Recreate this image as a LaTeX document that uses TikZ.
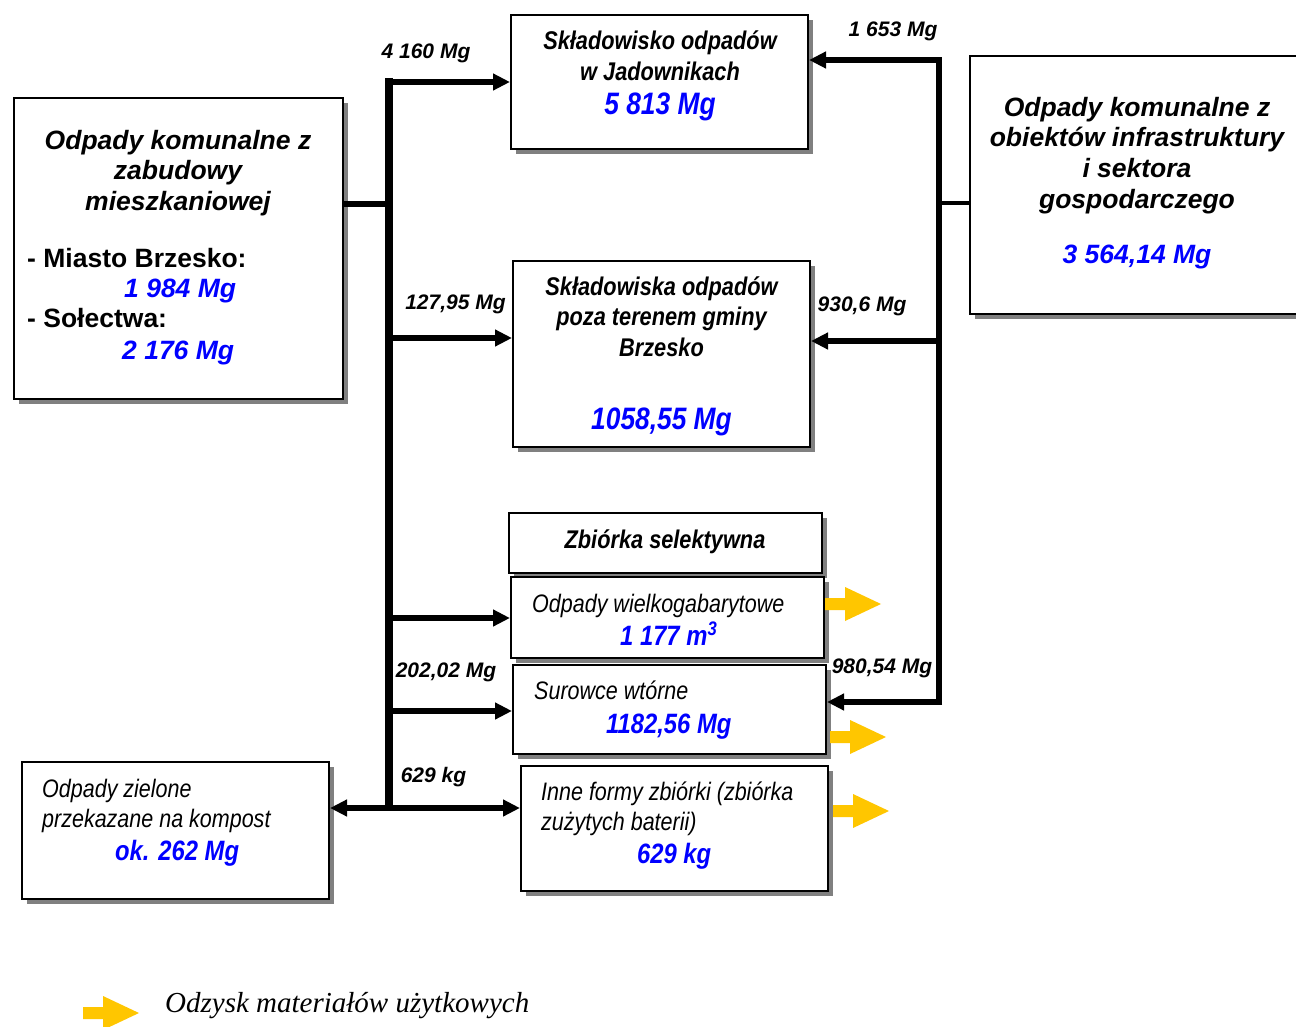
\documentclass[tikz,border=0pt]{standalone}
\usepackage{fontspec}
\setmainfont{Liberation Sans}
\newfontfamily\narrowf[FakeStretch=0.85]{Liberation Sans}
\newfontfamily\timesf{Liberation Serif}
\usetikzlibrary{arrows.meta,shadows,calc}
\definecolor{vblue}{RGB}{0,0,255}
\definecolor{ylw}{RGB}{255,198,0}
\definecolor{shd}{RGB}{128,128,128}
\tikzset{
  box/.style={draw=black, line width=2pt, fill=white, anchor=north west, inner sep=0pt,
    drop shadow={shadow xshift=5pt, shadow yshift=-5pt, fill=shd, opacity=1}},
  conn/.style={line width=5.5pt, draw=black, line join=miter},
  trunk/.style={line width=8pt, draw=black},
  tip/.style={-{Triangle[length=17pt,width=16pt]}},
  wide/.style={font=\fontsize{26.5}{30}\selectfont\bfseries\itshape, inner sep=0pt, anchor=base},
  wideup/.style={font=\fontsize{26.5}{30}\selectfont\bfseries, inner sep=0pt, anchor=base west},
  bluew/.style={font=\fontsize{26.5}{30}\selectfont\bfseries\itshape, text=vblue, inner sep=0pt, anchor=base west},
  narb/.style={font=\narrowf\fontsize{25.6}{30}\selectfont\bfseries\itshape, inner sep=0pt, anchor=base},
  narr/.style={font=\narrowf\fontsize{25.3}{30}\selectfont\itshape, inner sep=0pt, anchor=base west},
  bluebig/.style={font=\narrowf\fontsize{31}{34}\selectfont\bfseries\itshape, text=vblue, inner sep=0pt, anchor=base},
  bluen/.style={font=\narrowf\fontsize{28}{32}\selectfont\bfseries\itshape, text=vblue, inner sep=0pt, anchor=base west},
  lbl/.style={font=\fontsize{21}{24}\selectfont\bfseries\itshape, inner sep=0pt, anchor=base},
  yarrow/.pic={\fill[ylw] (0,-6) -- (20,-6) -- (20,-17) -- (56,0) -- (20,17) -- (20,6) -- (0,6) -- cycle;}
}
\begin{document}
\begin{tikzpicture}[x=1pt,y=-1pt]
\useasboundingbox[fill=white] (0,0) rectangle (1296,1027);

% boxes
\node[box, minimum width=329pt, minimum height=301pt] (A) at (13,97) {};
\node[box, minimum width=297pt, minimum height=134pt] (J) at (510,14) {};
\node[box, minimum width=297pt, minimum height=186pt] (P) at (512,260) {};
\node[box, minimum width=313pt, minimum height=60pt] (ZS) at (508,512) {};
\node[box, minimum width=313pt, minimum height=81pt] (W) at (510,576) {};
\node[box, minimum width=313pt, minimum height=89pt] (S) at (512,664) {};
\node[box, minimum width=307pt, minimum height=125pt] (I) at (520,765) {};
\node[box, minimum width=307pt, minimum height=137pt] (Z) at (21,761) {};
\node[box, minimum width=340pt, minimum height=258pt] (R) at (969,55) {};

% left box text
\node[wide] (a1) at (178,150) {Odpady komunalne z};
\node[wide] (a2) at (178,180) {zabudowy};
\node[wide] (a3) at (178,211) {mieszkaniowej};
\node[wideup] (a4) at (27,267) {- Miasto Brzesko:};
\node[bluew] (a5) at (124,297) {1 984 Mg};
\node[wideup] (a6) at (27,327) {- Sołectwa:};
\node[bluew] (a7) at (122,359) {2 176 Mg};

% Jadowniki
\node[narb] (j1) at (660,50) {Składowisko odpadów};
\node[narb] (j2) at (660,81) {w Jadownikach};
\node[bluebig] (j3) at (660,115) {5 813 Mg};

% poza terenem
\node[narb] (p1) at (661.5,295) {Składowiska odpadów};
\node[narb] (p2) at (661.5,325) {poza terenem gminy};
\node[narb] (p3) at (661.5,356) {Brzesko};
\node[bluebig] (p4) at (661.5,429) {1058,55 Mg};

% selektywna
\node[narb] (z1) at (665,548) {Zbiórka selektywna};
\node[narr] (w1) at (532,612) {Odpady wielkogabarytowe};
\node[bluen] (w2) at (620,645) {1 177 m\textsuperscript{3}};
\node[narr] (s1) at (534,699) {Surowce wtórne};
\node[bluen] (s2) at (606,733) {1182,56 Mg};
\node[narr] (i1) at (541,800) {Inne formy zbiórki (zbiórka};
\node[narr] (i2) at (541,830) {zużytych baterii)};
\node[bluen] (i3) at (637,863) {629 kg};

% zielone
\node[narr] (g1) at (42,797) {Odpady zielone};
\node[narr] (g2) at (42,827) {przekazane na kompost};
\node[bluen] (g3) at (115,860) {ok. 262 Mg};

% right box
\node[wide] (r1) at (1137,117) {Odpady komunalne z};
\node[wide] (r2) at (1137,147) {obiektów infrastruktury};
\node[wide] (r3) at (1137,178) {i sektora};
\node[wide] (r4) at (1137,209) {gospodarczego};
\node[wide, text=vblue] (r5) at (1137,263) {3 564,14 Mg};

% junction coordinates
\coordinate (LT) at (389,82);
\coordinate (LA) at (389,204);
\coordinate (LP) at (389,338);
\coordinate (LW) at (389,618);
\coordinate (LS) at (389,711);
\coordinate (LB) at (389,808);
\coordinate (RT) at (939,60);
\coordinate (RR) at (939,203);
\coordinate (RP) at (939,341);
\coordinate (RB) at (939,702);

% left trunk
\draw[trunk] (389,78) -- (LB);
\draw[conn] (A.east |- LA) -- (LA);
\draw[conn, tip] (385,82) -- (J.west |- LT);
\draw[conn, tip] (LP) -- (P.west |- LP);
\draw[conn, tip] (LW) -- (W.west |- LW);
\draw[conn, tip] (LS) -- (S.west |- LS);
\draw[conn, {Triangle[length=17pt,width=16pt]}-{Triangle[length=17pt,width=16pt]}] (Z.east |- LB) -- (I.west |- LB);

% right trunk
\draw[conn, line width=6pt, tip] (RB) -- (RT) -- (J.east |- RT);
\draw[conn, line width=4.5pt] (R.west |- RR) -- (RR);
\draw[conn, tip] (RP) -- (P.east |- RP);
\draw[conn, tip] (942,702) -- (S.east |- RB);

% labels
\node[lbl] (l1) at (426,59) {4 160 Mg};
\node[lbl] (l2) at (893,37) {1 653 Mg};
\node[lbl] (l3) at (455.5,309) {127,95 Mg};
\node[lbl] (l4) at (862,311) {930,6 Mg};
\node[lbl] (l5) at (446,677) {202,02 Mg};
\node[lbl] (l6) at (882,673) {980,54 Mg};
\node[lbl] (l7) at (433.5,782) {629 kg};

% yellow recovery arrows
\pic at (825,604) {yarrow};
\pic at (830,737) {yarrow};
\pic at (833,811) {yarrow};
\pic at (83,1013) {yarrow};
\node[font=\timesf\fontsize{29}{32}\selectfont\itshape, inner sep=0pt, anchor=base west] (leg) at (165,1012) {Odzysk materiałów użytkowych};
\end{tikzpicture}
\end{document}
